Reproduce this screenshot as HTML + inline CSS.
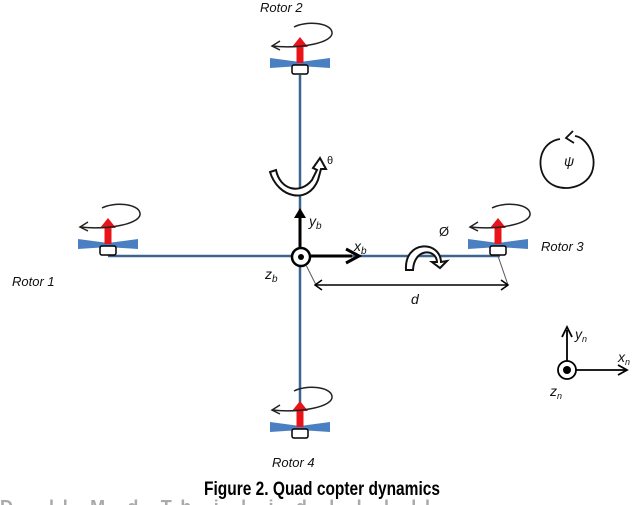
<!DOCTYPE html>
<html><head><style>
body{margin:0;background:#fff;width:640px;height:505px;overflow:hidden}
svg{display:block}
text{font-family:"Liberation Sans",sans-serif}
</style></head><body>
<svg width="640" height="505" viewBox="0 0 640 505" xmlns="http://www.w3.org/2000/svg">
<defs>
<g id="rotor">
  <polygon points="-30,-5 0,-1 0,3 -30,5" fill="#4a7fc1"/>
  <polygon points="30,-5 0,-1 0,3 30,5" fill="#4a7fc1"/>
  <rect x="-8" y="2" width="16" height="9" rx="2" fill="#fff" stroke="#000" stroke-width="1.5"/>
  <rect x="-3.5" y="-17" width="7" height="17" fill="#e8141a"/>
  <polygon points="-8,-16 8,-16 0,-26" fill="#e8141a"/>
  <path d="M-28,-17 C0,-14 34,-20 32,-31 C30,-41 5,-42 -6,-36" fill="none" stroke="#222" stroke-width="1.5"/>
  <path d="M-20,-22 L-28,-17 L-20,-13" fill="none" stroke="#222" stroke-width="1.5"/>
</g>
</defs>
<text x="260" y="12" font-size="13" font-style="italic" fill="#111">Rotor 2</text>
<line x1="300" y1="75" x2="300" y2="432" stroke="#3d6592" stroke-width="2.5"/>
<line x1="108" y1="256" x2="500" y2="256" stroke="#3d6592" stroke-width="2.5"/>
<use href="#rotor" x="300" y="63"/>
<use href="#rotor" x="108" y="244"/>
<use href="#rotor" x="498" y="244"/>
<use href="#rotor" x="300" y="427"/>
<text x="12" y="286" font-size="13" font-style="italic" fill="#111">Rotor 1</text>
<text x="541" y="251" font-size="13" font-style="italic" fill="#111">Rotor 3</text>
<text x="272" y="467" font-size="13" font-style="italic" fill="#111">Rotor 4</text>
<path d="M276,170 C280,190 300,195 312,180 L317,170 L313,168 L320,158 L326,169 L321,169 L318,180 C308,205 278,198 270,172 Z" fill="#fff" stroke="#111" stroke-width="2"/>
<text x="327" y="164" font-size="11" fill="#111">θ</text>
<line x1="300" y1="250" x2="300" y2="215" stroke="#000" stroke-width="3"/>
<polygon points="294,218 306,218 300,208" fill="#000"/>
<text x="309" y="226" font-size="14" font-style="italic" font-family="Liberation Serif" fill="#111">y<tspan font-size="10" dy="3">b</tspan></text>
<line x1="309" y1="256" x2="352" y2="256" stroke="#000" stroke-width="3"/>
<path d="M346,249 L359,256 L346,263" fill="none" stroke="#000" stroke-width="3"/>
<text x="354" y="251" font-size="14" font-style="italic" font-family="Liberation Serif" fill="#111">x<tspan font-size="10" dy="3">b</tspan></text>
<circle cx="301" cy="257" r="9" fill="#fff" stroke="#000" stroke-width="2.5"/>
<circle cx="301" cy="257" r="3" fill="#000"/>
<text x="265" y="279" font-size="14" font-style="italic" font-family="Liberation Serif" fill="#111">z<tspan font-size="10" dy="3">b</tspan></text>
<path d="M406,270 C404,240 440,240 441,262 L447,261 L440,268 L432,262 L437,262 C436,248 414,248 413,270 Z" fill="#fff" stroke="#111" stroke-width="2"/>
<text x="439" y="236" font-size="13" font-family="Liberation Serif" fill="#111">Ø</text>
<line x1="306" y1="265" x2="316" y2="285" stroke="#555" stroke-width="1"/>
<line x1="498" y1="256" x2="508" y2="285" stroke="#555" stroke-width="1"/>
<line x1="315" y1="285" x2="508" y2="285" stroke="#000" stroke-width="1.5"/>
<path d="M322,280 L315,285 L322,290 M501,280 L508,285 L501,290" fill="none" stroke="#000" stroke-width="1.5"/>
<text x="411" y="304" font-size="14" font-style="italic" fill="#111">d</text>
<path d="M560,139 C540,142 536,165 545,178 C556,194 585,190 592,172 C598,154 585,137 575,136" fill="none" stroke="#111" stroke-width="1.8"/>
<path d="M573,131 L566,138 L574,143" fill="none" stroke="#111" stroke-width="1.8"/>
<text x="564" y="166" font-size="14" font-style="italic" font-family="Liberation Serif" fill="#111">ψ</text>
<line x1="567" y1="368" x2="567" y2="330" stroke="#000" stroke-width="1.8"/>
<path d="M562,337 L567,327 L572,337" fill="none" stroke="#000" stroke-width="1.8"/>
<text x="575" y="339" font-size="14" font-style="italic" font-family="Liberation Serif" fill="#111">y<tspan font-size="9" dy="3">n</tspan></text>
<line x1="576" y1="370" x2="626" y2="370" stroke="#000" stroke-width="1.8"/>
<path d="M618,365 L627,370 L618,375" fill="none" stroke="#000" stroke-width="1.8"/>
<text x="618" y="362" font-size="14" font-style="italic" font-family="Liberation Serif" fill="#111">x<tspan font-size="9" dy="3">n</tspan></text>
<circle cx="567" cy="370" r="9" fill="#fff" stroke="#000" stroke-width="1.8"/>
<circle cx="567" cy="370" r="4" fill="#000"/>
<text x="550" y="396" font-size="14" font-style="italic" font-family="Liberation Serif" fill="#111">z<tspan font-size="9" dy="3">n</tspan></text>
<text x="204" y="495" font-size="19" font-weight="bold" fill="#000" textLength="236" lengthAdjust="spacingAndGlyphs">Figure 2. Quad copter dynamics</text>
<text x="0" y="513" font-size="18" font-weight="bold" fill="#aaa" textLength="430" lengthAdjust="spacing">D. ll M d   Th      i     l  i    d l   l  l  ll</text>
</svg>
</body></html>
